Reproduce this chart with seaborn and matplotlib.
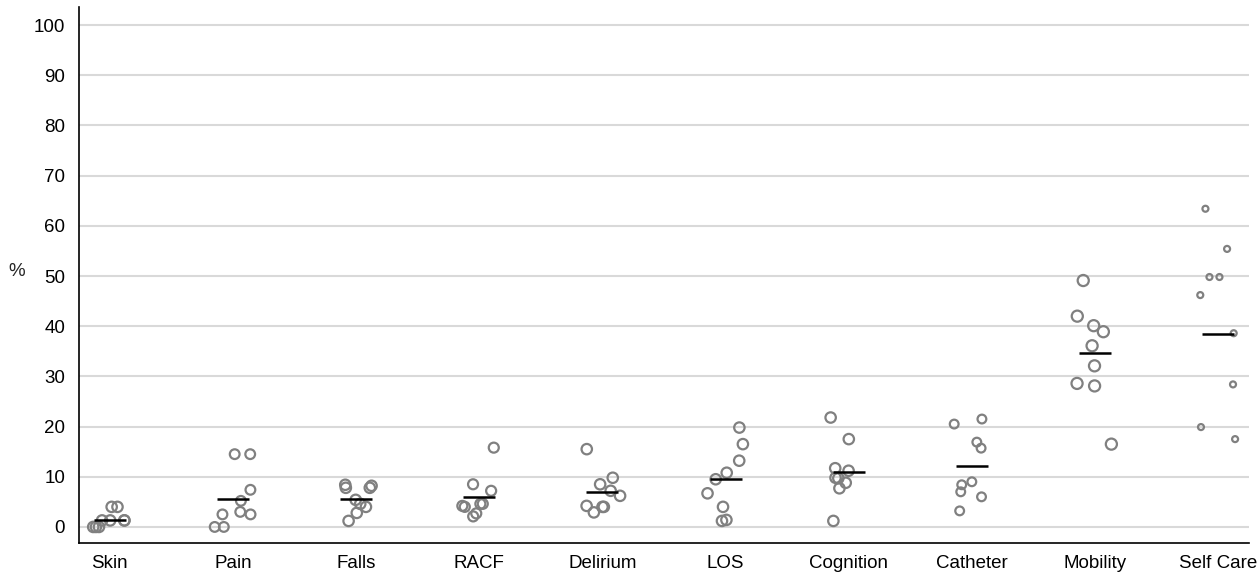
import numpy as np
import pandas as pd
import matplotlib
matplotlib.use("Agg")
import matplotlib.pyplot as plt
import seaborn as sns

categories = ["Skin", "Pain", "Falls", "RACF", "Delirium", "LOS",
              "Cognition", "Catheter", "Mobility", "Self Care"]

skin = [4.0, 4.0, 1.3, 1.3, 1.3, 1.3, 0.0, 0.0, 0.0]
pain = [14.5, 14.5, 7.4, 5.2, 3.0, 2.5, 2.5, 0.0, 0.0]
falls = [7.8, 7.8, 8.4, 8.2, 5.4, 4.6, 4.0, 2.8, 1.2]
racf = [15.8, 8.5, 7.2, 4.2, 4.0, 4.6, 4.6, 2.7, 2.1]
delirium = [15.5, 9.8, 8.5, 7.2, 6.2, 4.0, 4.0, 4.2, 2.9]
los = [19.8, 16.5, 13.2, 10.8, 9.5, 6.7, 4.0, 1.2, 1.4]
cognition = [21.8, 17.5, 11.2, 11.7, 9.8, 9.7, 8.8, 7.7, 1.2]
catheter = [21.5, 20.5, 16.9, 15.7, 9.0, 8.4, 7.0, 6.0, 3.2]
mobility = [49.1, 42.0, 40.1, 38.9, 36.1, 32.1, 28.6, 28.1, 16.5]
self_care = [63.4, 55.4, 49.8, 49.8, 46.2, 38.6, 28.4, 19.9, 17.5]

means = [1.4, 5.6, 5.6, 6.0, 7.0, 9.5, 11.0, 12.2, 34.6, 38.5]

series = [skin, pain, falls, racf, delirium, los, cognition, catheter,
          mobility, self_care]

df = pd.DataFrame({
    "outcome": np.repeat(categories, [len(s) for s in series]),
    "pct": np.concatenate(series),
})
df_mean = pd.DataFrame({"outcome": categories, "pct": means})

# marker diameters (points) per category
marker_size = {"Skin": 7.5, "Pain": 7.0, "Falls": 7.5, "RACF": 7.2,
               "Delirium": 7.5, "LOS": 7.5, "Cognition": 7.5,
               "Catheter": 6.3, "Mobility": 8.0, "Self Care": 4.3}

sns.set_style("white")
plt.rcParams["font.family"] = ["Liberation Sans", "DejaVu Sans"]

fig = plt.figure(figsize=(12.57, 5.74), dpi=100)
ax = fig.add_axes([79 / 1257, 1 - 543 / 574, 1170 / 1257, 536 / 574])

for i, cat in enumerate(categories):
    np.random.seed(i + 3)
    sns.stripplot(data=df[df["outcome"] == cat], x="outcome", y="pct",
                  order=categories, jitter=0.15, size=marker_size[cat],
                  facecolor="none", edgecolor="#808080", linewidth=1.6,
                  color="#808080", ax=ax, zorder=3)

sns.pointplot(data=df_mean, x="outcome", y="pct", order=categories,
              color="black", marker="_", markersize=23,
              markeredgewidth=1.8, linestyle="none", errorbar=None,
              ax=ax, zorder=4)

ax.set_xlim(-0.25, 9.25)
ax.set_ylim(-3.2, 103.6)
ax.set_yticks(range(0, 101, 10))
ax.yaxis.grid(True, color="#d9d9d9", linewidth=1.5, zorder=0)
ax.xaxis.grid(False)
ax.set_axisbelow(True)

for side in ["top", "right"]:
    ax.spines[side].set_visible(False)
for side in ["left", "bottom"]:
    ax.spines[side].set_color("black")
    ax.spines[side].set_linewidth(1.2)

ax.tick_params(axis="both", which="major", direction="out", length=6,
               width=1.2, color="black", labelsize=13.5, labelcolor="black")
ax.tick_params(axis="y", pad=4)
ax.tick_params(axis="x", pad=3)

ax.set_xlabel("")
ax.set_ylabel("%", rotation=0, fontsize=13.5, va="center", ha="center")
ax.yaxis.set_label_coords(-0.053, 0.507)

fig.savefig("out.png", dpi=100)
